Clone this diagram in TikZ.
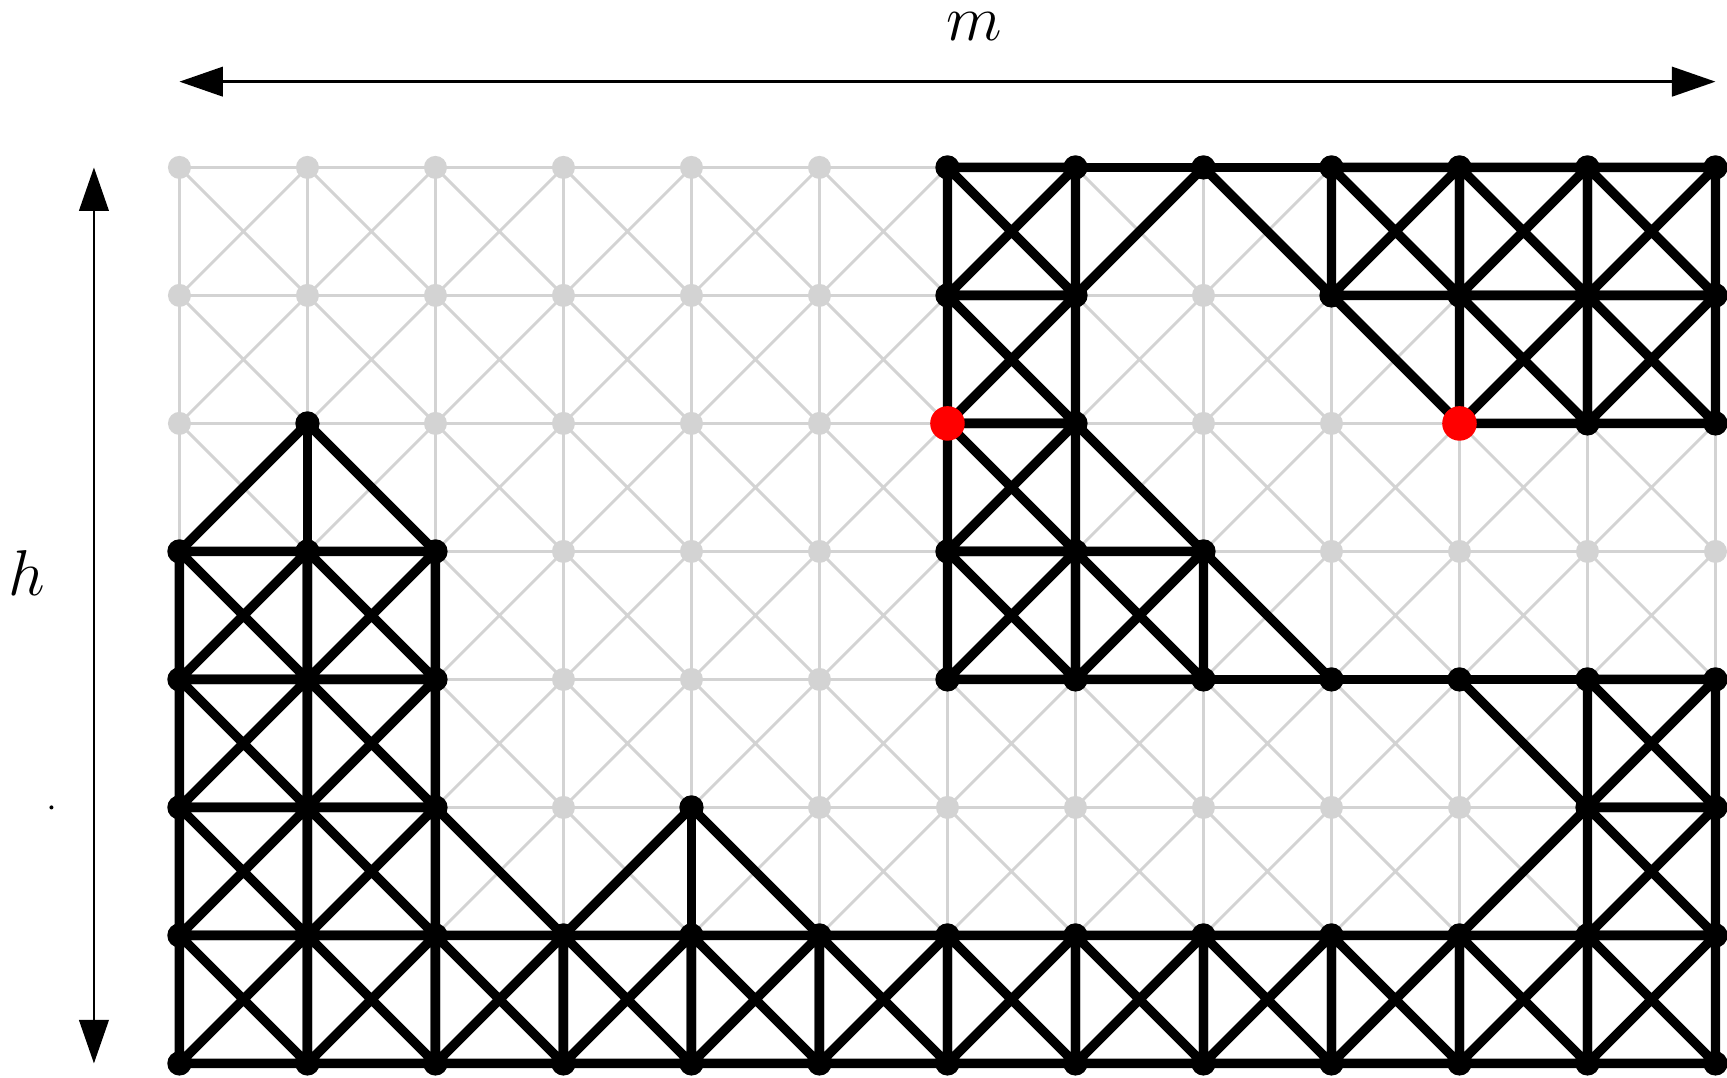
\documentclass[tikz,border=0pt]{standalone}
\usetikzlibrary{arrows.meta}
\definecolor{gridgray}{RGB}{211,211,211}

\begin{document}
\begin{tikzpicture}[
  gridline/.style={gridgray, line width=0.65pt},
  truss/.style={black, line width=2.1pt},
  griddot/.style={circle, fill=gridgray, inner sep=0pt, minimum size=1.8mm},
  jointdot/.style={circle, fill=black, inner sep=0pt, minimum size=1.9mm},
  pindot/.style={circle, fill=red, inner sep=0pt, minimum size=2.7mm},
  dim/.style={{Triangle[length=3.4mm, width=2.3mm]}-{Triangle[length=3.4mm, width=2.3mm]},
              line width=0.6pt},
  lbl/.style={font=\Large, inner sep=0pt},
]
  \useasboundingbox (-1.402,-0.11) rectangle (12.09,8.308);

  \foreach \x in {0,...,12}
    \foreach \y in {0,...,7}
      \coordinate (v\x-\y) at (\x,\y);

  \foreach \y in {0,...,7}
    \draw[gridline] (v0-\y) -- (v12-\y);
  \foreach \x in {0,...,12}
    \draw[gridline] (v\x-0) -- (v\x-7);
  \foreach \x in {0,...,11}
    \foreach \y in {0,...,6} {
      \pgfmathtruncatemacro\xr{\x+1}
      \pgfmathtruncatemacro\yu{\y+1}
      \draw[gridline] (v\x-\y) -- (v\xr-\yu) (v\xr-\y) -- (v\x-\yu);
    }
  \foreach \x in {0,...,12}
    \foreach \y in {0,...,7}
      \node[griddot] (g\x-\y) at (v\x-\y) {};

  \foreach \x/\y in {0/0,1/0,2/0,3/0,4/0,5/0,6/0,7/0,8/0,9/0,10/0,11/0,
                     0/1,1/1,0/2,1/2,0/3,1/3,11/1,11/2,
                     6/3,7/3,6/4,6/5,6/6,9/6,10/6,11/6,10/5,11/5} {
    \pgfmathtruncatemacro\xr{\x+1}
    \pgfmathtruncatemacro\yu{\y+1}
    \draw[truss] (v\x-\y) rectangle (v\xr-\yu)
                 (v\x-\y) -- (v\xr-\yu) (v\xr-\y) -- (v\x-\yu);
  }
  \foreach \a/\b in {0-4/1-5, 1-5/2-4, 1-4/1-5, 2-2/3-1, 3-1/4-2, 4-2/5-1, 4-1/4-2,
                     10-1/11-2, 10-3/11-2, 8-3/11-3, 7-5/8-4, 8-4/9-3,
                     7-6/8-7, 8-7/9-6, 7-7/9-7, 9-6/10-5}
    \draw[truss] (v\a) -- (v\b);

  \foreach \x in {0,...,12}
    \foreach \y in {0,1}
      \node[jointdot] (j\x-\y) at (v\x-\y) {};
  \foreach \p in {0-2,1-2,2-2,4-2,11-2,12-2,
                  0-3,1-3,2-3,6-3,7-3,8-3,9-3,10-3,11-3,12-3,
                  0-4,1-4,2-4,6-4,7-4,8-4,
                  1-5,7-5,11-5,12-5,
                  6-6,7-6,9-6,10-6,11-6,12-6,
                  6-7,7-7,8-7,9-7,10-7,11-7,12-7}
    \node[jointdot] (j\p) at (v\p) {};
  \node[pindot] (pinA) at (v6-5) {};
  \node[pindot] (pinB) at (v10-5) {};

  \coordinate (mL) at (0,7.67);
  \coordinate (mR) at (12,7.67);
  \draw[dim] (mL) -- (mR);
  \node[lbl] (mlabel) at (6.21,8.10) {$m$};

  \coordinate (hB) at (-0.668,0);
  \coordinate (hT) at (-0.668,7);
  \draw[dim] (hB) -- (hT);
  \node[lbl] (hlabel) at (-1.19,3.83) {$h$};

  \node[circle, fill, inner sep=0pt, minimum size=0.9pt] (speck) at (-1,2) {};
\end{tikzpicture}
\end{document}
